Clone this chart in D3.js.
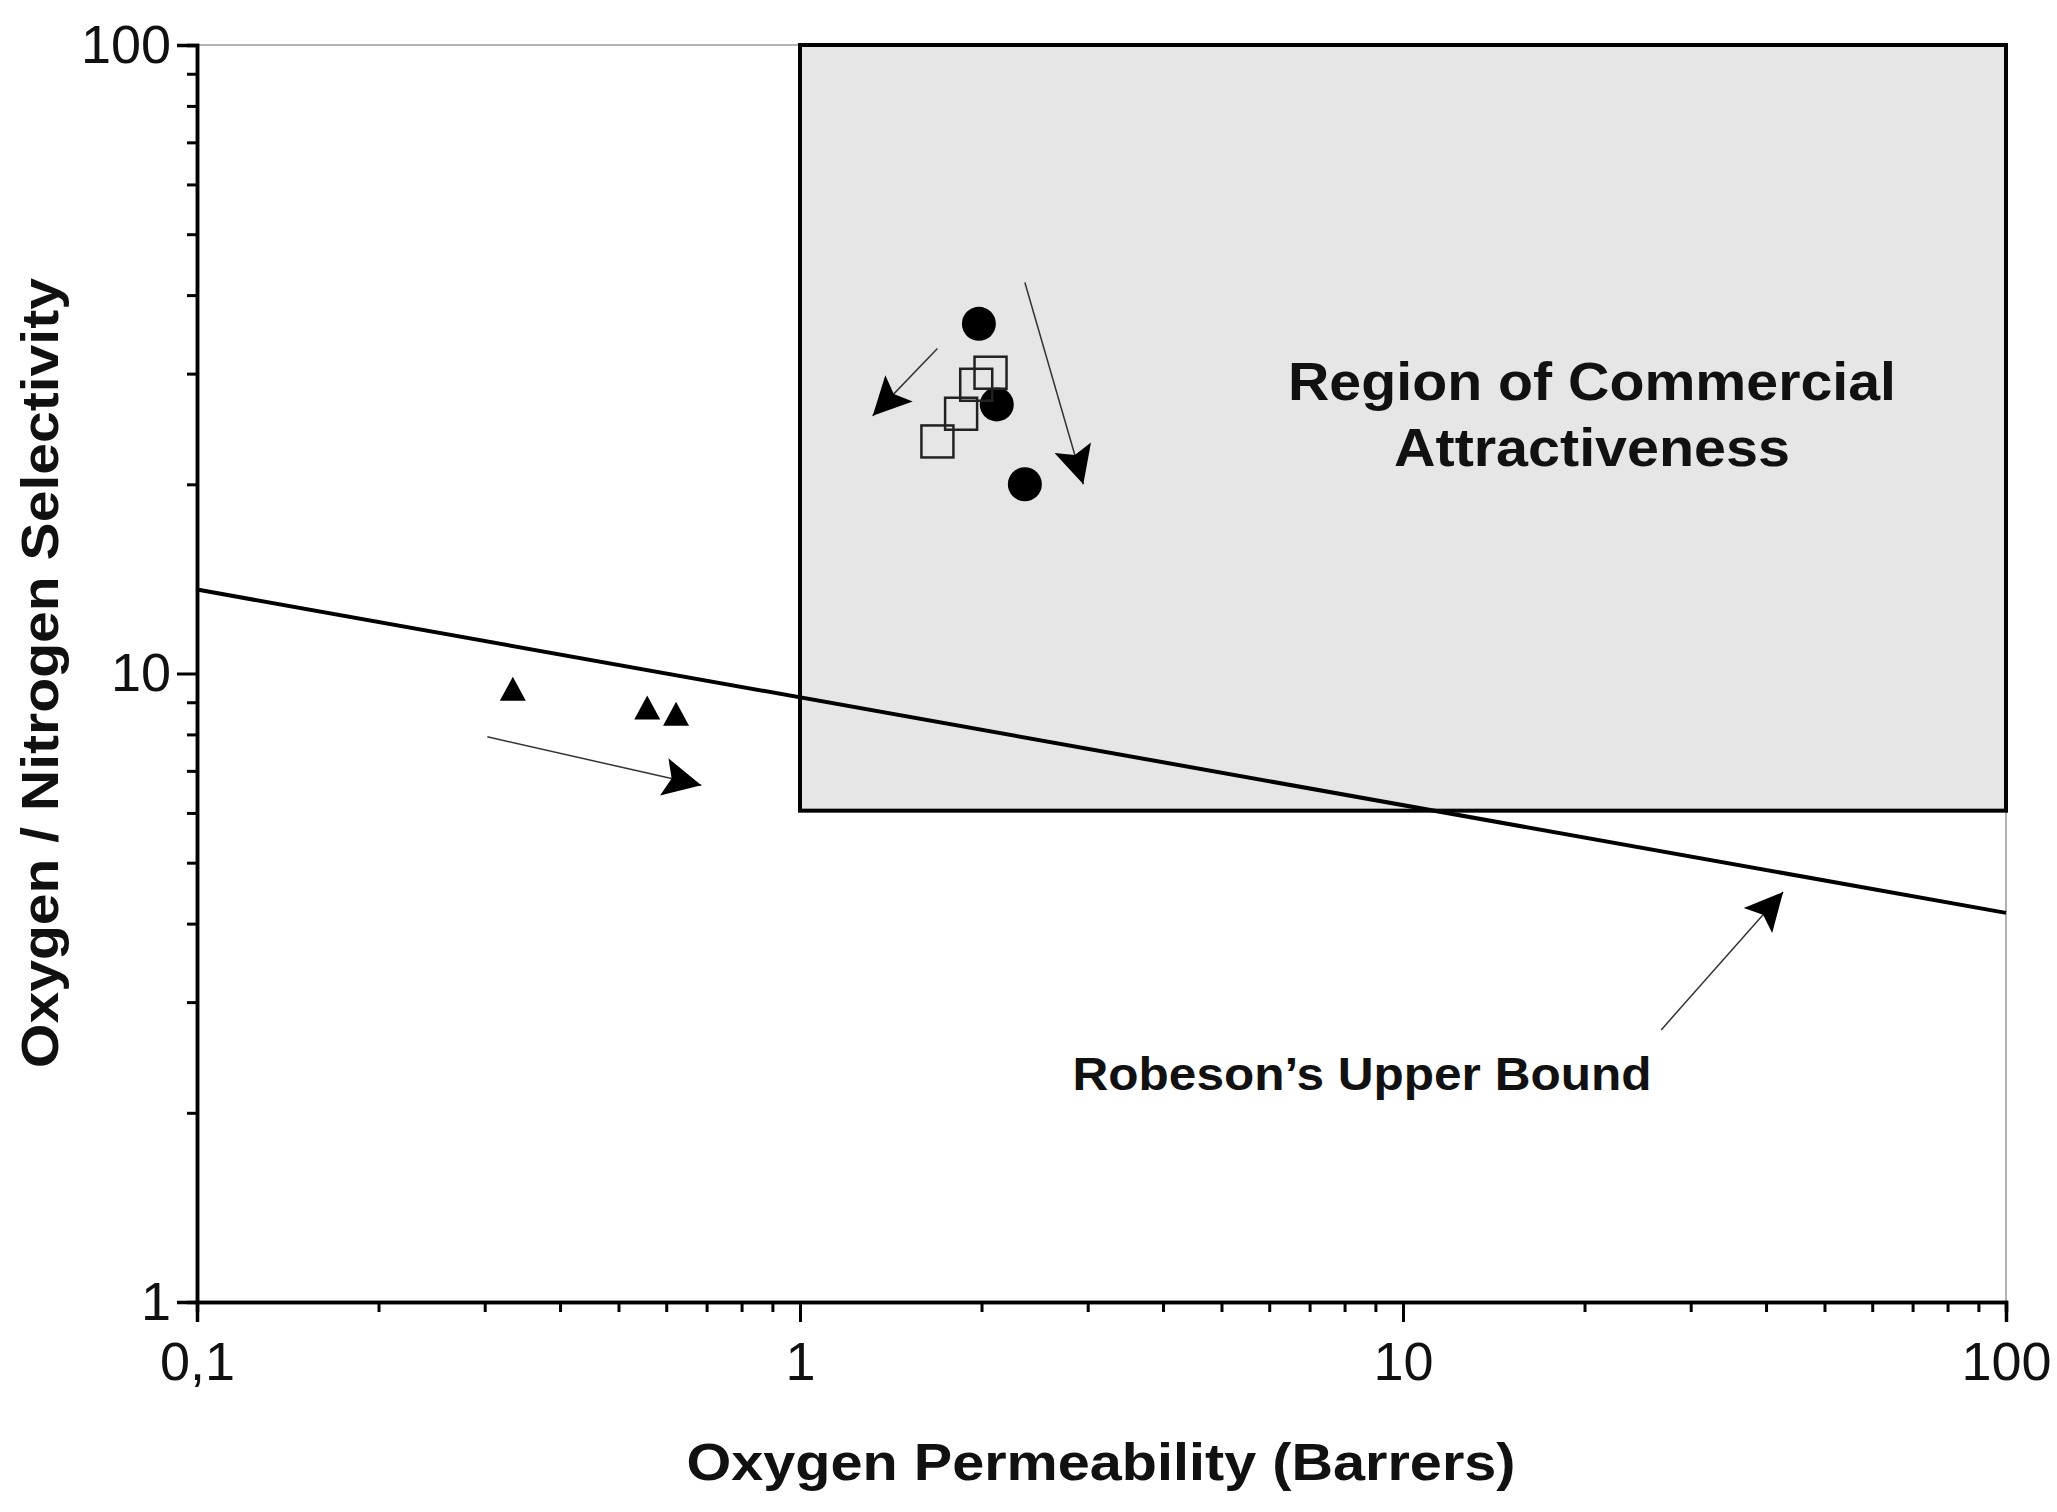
<!DOCTYPE html><html><head><meta charset="utf-8">
<script src="https://d3js.org/d3.v7.min.js"></script>
<style>body{margin:0;background:#fff}</style></head><body>
<script>
const circles=[[1.98,36],[2.12,26.8],[2.36,20]];
const squares=[[1.69,23.4],[1.85,25.9],[1.96,28.8],[2.07,30.1]];
const triangles=[[0.334,9.42],[0.558,8.8],[0.623,8.6]];
const robeson=[[0.1,13.6],[100,4.16]];
const region={x0:1,x1:100,y0:6.05,y1:100};
const arrows=[[[0.303,7.93],[0.686,6.64]],[[1.69,32.9],[1.32,25.7]],[[2.36,41.9],[2.95,20]],[[26.8,2.71],[42.7,4.49]]];
const xTicks=[0.1,1,10,100], xTickLabels=["0,1","1","10","100"];
const yTicks=[1,10,100], yTickLabels=["1","10","100"];

const W=2057,H=1512;
const svg=d3.select("body").append("svg").attr("width",W).attr("height",H);
const x=d3.scaleLog().domain([0.1,100]).range([197,2006]);
const y=d3.scaleLog().domain([1,100]).range([1302,45]);
const F="'Liberation Sans',Arial,sans-serif";
svg.append("defs").append("marker").attr("id","ah").attr("viewBox","0 0 10 10").attr("refX",10).attr("refY",5)
 .attr("markerWidth",62).attr("markerHeight",38).attr("markerUnits","userSpaceOnUse").attr("orient","auto")
 .append("path").attr("d","M0,0L10,5L0,10L2,5Z").attr("fill","#000");
svg.append("rect").attr("x",x(0.1)).attr("y",y(100)).attr("width",x(100)-x(0.1)).attr("height",y(1)-y(100))
 .attr("fill","none").attr("stroke","#999").attr("stroke-width",1.5);
svg.append("rect").attr("x",x(region.x0)).attr("y",y(region.y1)).attr("width",x(region.x1)-x(region.x0))
 .attr("height",y(region.y0)-y(region.y1)).attr("fill","#e6e6e6").attr("stroke","#000").attr("stroke-width",4);
const minX=[],minY=[];
for(let d=0.1;d<100;d*=10)for(let k=2;k<10;k++)minX.push(d*k);
for(let d=1;d<100;d*=10)for(let k=2;k<10;k++)minY.push(d*k);
const xa=svg.append("g").attr("transform",`translate(0,${y(1)})`);
xa.call(d3.axisBottom(x).tickValues(minX).tickSize(10).tickFormat(""));
xa.append("g").call(d3.axisBottom(x).tickValues(xTicks).tickSize(20).tickPadding(12).tickFormat((d,i)=>xTickLabels[i]));
const ya=svg.append("g").attr("transform",`translate(${x(0.1)},0)`);
ya.call(d3.axisLeft(y).tickValues(minY).tickSize(10).tickFormat(""));
ya.append("g").call(d3.axisLeft(y).tickValues(yTicks).tickSize(20).tickPadding(6).tickFormat((d,i)=>yTickLabels[i]));
svg.selectAll(".domain").attr("stroke","#000").attr("stroke-width",3.5);
svg.selectAll(".tick line").attr("stroke","#000").attr("stroke-width",3);
svg.selectAll(".tick text").attr("font-family",F).attr("font-size",54).attr("fill","#111");
xa.selectAll(".tick text").attr("dy","0.85em");
svg.append("line").attr("x1",x(robeson[0][0])).attr("y1",y(robeson[0][1])).attr("x2",x(robeson[1][0])).attr("y2",y(robeson[1][1]))
 .attr("stroke","#000").attr("stroke-width",4);
arrows.forEach(a=>svg.append("line").attr("x1",x(a[0][0])).attr("y1",y(a[0][1])).attr("x2",x(a[1][0])).attr("y2",y(a[1][1]))
 .attr("stroke","#333").attr("stroke-width",1.5).attr("marker-end","url(#ah)"));
svg.selectAll(".c").data(circles).join("circle").attr("cx",d=>x(d[0])).attr("cy",d=>y(d[1])).attr("r",17).attr("fill","#000");
svg.selectAll(".s").data(squares).join("rect").attr("x",d=>x(d[0])-16).attr("y",d=>y(d[1])-16).attr("width",32).attr("height",32)
 .attr("fill","none").attr("stroke","#222").attr("stroke-width",2.5);
svg.selectAll(".t").data(triangles).join("path").attr("transform",d=>`translate(${x(d[0])},${y(d[1])})`)
 .attr("d","M0,-13L13,11L-13,11Z").attr("fill","#000");
const t=(s,X,Y,fs,len)=>svg.append("text").attr("x",X).attr("y",Y).attr("font-family",F).attr("font-weight","bold")
 .attr("font-size",fs).attr("text-anchor","middle").attr("fill","#111").attr("textLength",len).attr("lengthAdjust","spacingAndGlyphs").text(s);
t("Region of Commercial",1592,400,54,608);
t("Attractiveness",1592,466,54,396);
t("Robeson’s Upper Bound",1362,1090,46,579);
t("Oxygen Permeability (Barrers)",1101,1480,52,829);
svg.append("text").attr("transform","translate(58,673) rotate(-90)").attr("font-family",F).attr("font-weight","bold")
 .attr("font-size",52).attr("text-anchor","middle").attr("fill","#111").attr("textLength",790).attr("lengthAdjust","spacingAndGlyphs").text("Oxygen / Nitrogen Selectivity");
</script></body></html>
